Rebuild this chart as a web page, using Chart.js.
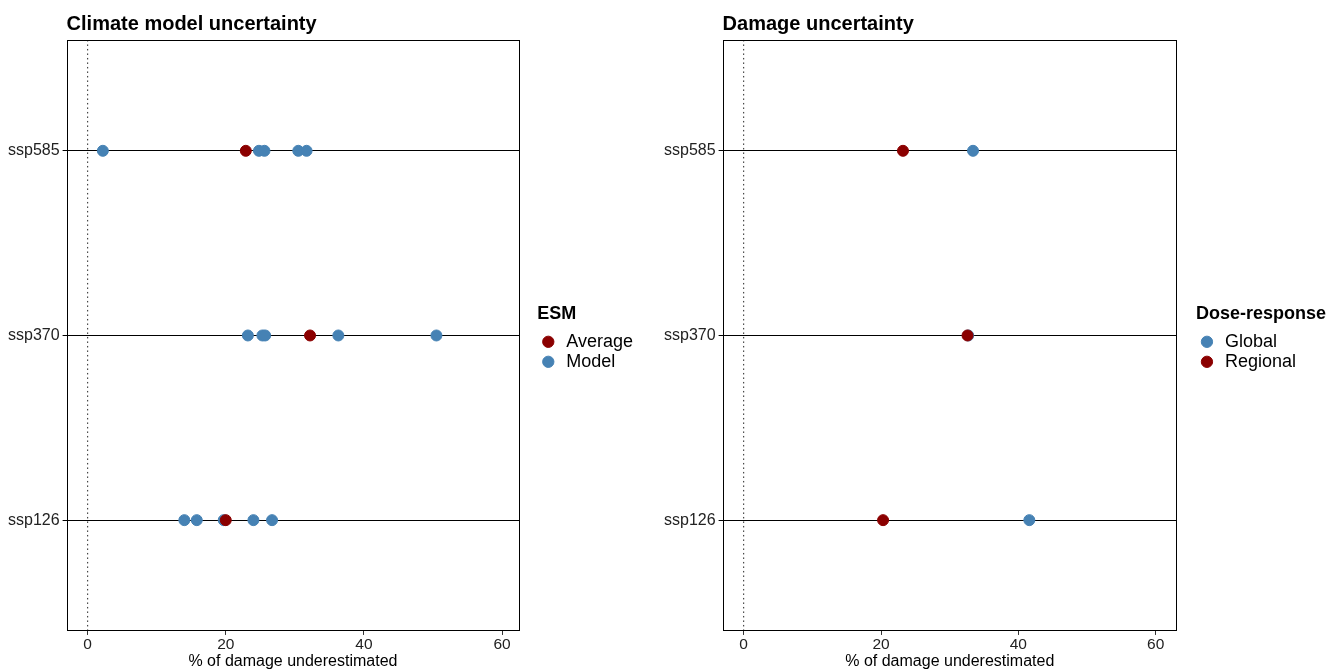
<!DOCTYPE html>
<html>
<head>
<meta charset="utf-8">
<script src="https://cdn.jsdelivr.net/npm/chart.js@4.4.1/dist/chart.umd.min.js"></script>
<style>
  html, body { margin: 0; padding: 0; background: #fff; }
  .panel { position: absolute; top: 0; height: 670px; }
  #left { left: 0; width: 660px; }
  #right { left: 660px; width: 667px; }
</style>
</head>
<body>
<div class="panel" id="left"><canvas id="climate"></canvas></div>
<div class="panel" id="right"><canvas id="damage"></canvas></div>
<script>
// scenarios, top to bottom, and where they sit on the y scale
const scenarios = ['ssp585', 'ssp370', 'ssp126'];
const scenarioPos = [3, 2, 1];
const xTicks = [0, 20, 40, 60];

// climate model uncertainty (ESM)
const esmAverage = [22.9, 32.2, 20.0];
const esmModel = [
    [2.2, 24.8, 25.6, 30.5, 31.7],
    [23.2, 25.3, 25.7, 36.3, 50.5],
    [14.0, 15.8, 19.7, 24.0, 26.7]
];

// damage uncertainty (dose-response)
const doseGlobal = [33.4, 32.7, 41.6];
const doseRegional = [23.2, 32.6, 20.3];

const RED = '#8B0000';
const BLUE = '#4682B4';

Chart.defaults.font.family = '"Liberation Sans", Arial, sans-serif';
Chart.defaults.color = '#000';
Chart.defaults.animation = false;

// panel frame + left-aligned panel title
const framePlugin = {
    id: 'frame',
    afterDraw(chart, args, opts) {
        const { ctx, chartArea: a } = chart;
        ctx.save();
        ctx.strokeStyle = '#000';
        ctx.lineWidth = 1;
        ctx.strokeRect(Math.round(a.left) + 0.5, Math.round(a.top) + 0.5,
            Math.round(a.width) - 1, Math.round(a.height) - 1);
        ctx.font = 'bold 20px "Liberation Sans", Arial, sans-serif';
        ctx.fillStyle = '#000';
        ctx.textBaseline = 'alphabetic';
        ctx.fillText(opts.text, a.left, a.top - 10);
        ctx.restore();
    }
};

// nudge the legend box away from the plot like ggplot does
const legendShift = {
    id: 'legendShift',
    afterLayout(chart, args, opts) {
        const lg = chart.legend;
        if (!lg) return;
        lg.left += opts.dx;
        lg.right = chart.width;
        lg.width = lg.right - lg.left;
        lg.top += opts.dy;
        lg.bottom += opts.dy;
    }
};

function points(values) {
    return values.map((v, i) => ({ x: v, y: scenarioPos[i] }));
}

function nested(groups) {
    const out = [];
    groups.forEach((g, i) => g.forEach(v => out.push({ x: v, y: scenarioPos[i] })));
    return out;
}

function zeroLine() {
    return {
        type: 'line',
        label: 'zero',
        data: [{ x: 0, y: 0.4 }, { x: 0, y: 3.6 }],
        borderColor: '#222',
        borderWidth: 1,
        borderDash: [1.5, 3],
        pointRadius: 0,
        order: 10
    };
}

function makeChart(id, title, legendTitle, datasets, xMin, xMax, pad, shift) {
    return new Chart(document.getElementById(id), {
        type: 'scatter',
        data: { datasets: datasets.concat([zeroLine()]) },
        options: {
            responsive: true,
            maintainAspectRatio: false,
            layout: { padding: pad },
            plugins: {
                frame: { text: title },
                legendShift: shift,
                tooltip: { enabled: false },
                legend: {
                    position: 'right',
                    align: 'center',
                    title: {
                        display: true,
                        text: legendTitle,
                        position: 'start',
                        font: { size: 18, weight: 'bold' },
                        padding: { top: 0, bottom: 4 }
                    },
                    labels: {
                        usePointStyle: true,
                        pointStyle: 'circle',
                        boxWidth: 18,
                        boxHeight: 8,
                        padding: 2,
                        font: { size: 18 },
                        filter: item => item.text !== 'zero',
                        sort: (a, b) => a.datasetIndex - b.datasetIndex
                    }
                }
            },
            scales: {
                x: {
                    type: 'linear',
                    min: xMin,
                    max: xMax,
                    afterBuildTicks: axis => { axis.ticks = xTicks.map(v => ({ value: v })); },
                    grid: { drawOnChartArea: false, drawTicks: true, tickLength: 4, color: '#333' },
                    border: { display: false },
                    ticks: { font: { size: 15.5, lineHeight: 1.1 }, color: '#222', padding: 1, maxRotation: 0 },
                    title: {
                        display: true,
                        text: '% of damage underestimated',
                        font: { size: 16, lineHeight: 1 },
                        color: '#000',
                        padding: { top: 0, bottom: 0 }
                    }
                },
                y: {
                    type: 'linear',
                    min: 0.4,
                    max: 3.6,
                    afterBuildTicks: axis => { axis.ticks = scenarioPos.map(v => ({ value: v })); },
                    grid: { color: '#000', lineWidth: 1, drawTicks: true, tickLength: 4 },
                    border: { display: false },
                    ticks: {
                        font: { size: 16 },
                        color: '#222',
                        padding: 3,
                        callback: v => scenarios[scenarioPos.indexOf(v)]
                    }
                }
            }
        },
        plugins: [framePlugin, legendShift]
    });
}

makeChart('climate', 'Climate model uncertainty', 'ESM', [
    { label: 'Average', data: points(esmAverage), backgroundColor: RED, borderColor: RED,
      pointRadius: 5.5, order: 1 },
    { label: 'Model', data: nested(esmModel), backgroundColor: BLUE, borderColor: BLUE,
      pointRadius: 5.5, order: 2 }
], -3.05, 62.5, { top: 40, left: 5, right: 35, bottom: 0 }, { dx: 18, dy: -16 });

makeChart('damage', 'Damage uncertainty', 'Dose-response', [
    { label: 'Global', data: points(doseGlobal), backgroundColor: BLUE, borderColor: BLUE,
      pointRadius: 5.5, order: 2 },
    { label: 'Regional', data: points(doseRegional), backgroundColor: RED, borderColor: RED,
      pointRadius: 5.5, order: 1 }
], -3.07, 63.1, { top: 40, left: 1, right: 40, bottom: 0 }, { dx: 19, dy: -16 });
</script>
</body>
</html>
